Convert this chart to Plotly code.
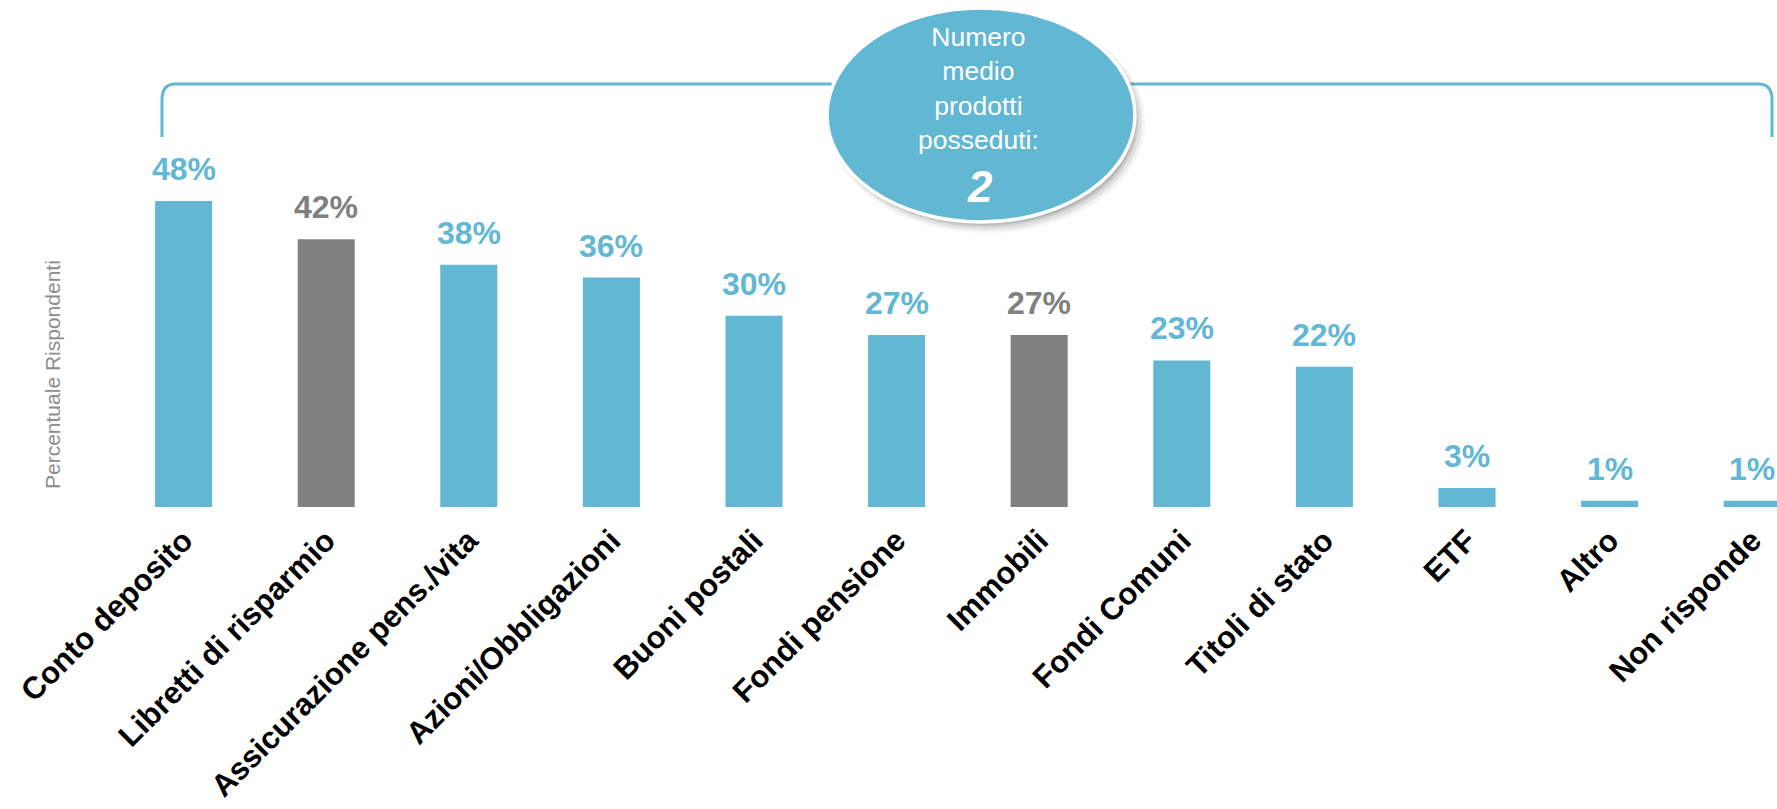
import plotly.graph_objects as go

# Products owned by respondents (% of respondents)
categories = [
    "Conto deposito", "Libretti di risparmio", "Assicurazione pens./vita",
    "Azioni/Obbligazioni", "Buoni postali", "Fondi pensione", "Immobili",
    "Fondi Comuni", "Titoli di stato", "ETF", "Altro", "Non risponde",
]
values = [48, 42, 38, 36, 30, 27, 27, 23, 22, 3, 1, 1]
highlight = [False, True, False, False, False, False, True, False, False, False, False, False]
avg_products = 2

BLUE = "#62B7D3"
GREY = "#808080"
FONT = "Liberation Sans, Arial, sans-serif"

W, H = 1777, 809
PLOT_BOTTOM = 507          # pixel row of the bar baseline
PX_PER_UNIT = 6.375        # vertical pixels per percentage point
CAT_STEP = 142.6           # horizontal pixels per category
FIRST_CENTER = 183.6       # pixel column of the first bar centre

colors = [GREY if h else BLUE for h in highlight]


def px(x):
    return x / W


def py(y):
    return 1 - y / PLOT_BOTTOM


fig = go.Figure(
    go.Bar(
        x=categories,
        y=values,
        marker=dict(color=colors, line=dict(width=0)),
        hoverinfo="skip",
    )
)

# value labels above each bar
for cat, v, c in zip(categories, values, colors):
    fig.add_annotation(
        x=cat, y=v, xref="x", yref="y",
        text=f"{v}%", showarrow=False,
        yanchor="bottom", yshift=12,
        font=dict(family=FONT, size=32, color=c, weight="bold"),
    )

# bracket spanning all bars
bracket = (
    f"M {px(162)} {py(137)} L {px(162)} {py(98)} "
    f"Q {px(163)} {py(84)} {px(175)} {py(84)} "
    f"L {px(1759)} {py(84)} "
    f"Q {px(1771)} {py(84)} {px(1772)} {py(98)} "
    f"L {px(1772)} {py(137)}"
)
fig.add_shape(type="path", path=bracket, xref="paper", yref="paper",
              line=dict(color=BLUE, width=3), layer="above")

# bubble with soft drop shadow
cx, cy, a, b = 981, 115, 154, 107
for off, grow, op in [(7, 4, 0.08), (6, 2, 0.12), (5, 0, 0.18), (4, -1, 0.22)]:
    fig.add_shape(type="circle", xref="paper", yref="paper",
                  x0=px(cx - a - grow + off - 1), x1=px(cx + a + grow + off - 1),
                  y0=py(cy + b + grow + off), y1=py(cy - b - grow + off),
                  fillcolor="#6a6a6a", opacity=op, line=dict(width=0), layer="above")
fig.add_shape(type="circle", xref="paper", yref="paper",
              x0=px(cx - a), x1=px(cx + a), y0=py(cy + b), y1=py(cy - b),
              fillcolor=BLUE, line=dict(color="white", width=3.5), layer="above")

fig.add_annotation(
    x=px(978), y=py(88), xref="paper", yref="paper",
    text="Numero<br>medio<br>prodotti<br>posseduti:", showarrow=False,
    xanchor="center", yanchor="middle", align="center",
    font=dict(family=FONT, size=26.5, color="white"),
)
fig.add_annotation(
    x=px(980), y=py(186), xref="paper", yref="paper",
    text=f"<b><i>{avg_products}</i></b>", showarrow=False,
    xanchor="center", yanchor="middle",
    font=dict(family=FONT, size=44, color="white"),
)

# vertical axis caption
fig.add_annotation(
    x=px(52), y=py(375), xref="paper", yref="paper",
    text="Percentuale Rispondenti", showarrow=False, textangle=-90,
    xanchor="center", yanchor="middle",
    font=dict(family=FONT, size=21, color="#8c8c8c"),
)

x0 = -FIRST_CENTER / CAT_STEP
x1 = x0 + W / CAT_STEP
fig.update_layout(
    width=W, height=H,
    margin=dict(l=0, r=0, t=0, b=H - PLOT_BOTTOM),
    paper_bgcolor="white", plot_bgcolor="white",
    bargap=0.6, showlegend=False,
    xaxis=dict(
        range=[x0, x1], tickangle=-45, showgrid=False, showline=False,
        zeroline=False, automargin=False,
        # invisible ticks push the labels a little below the baseline
        ticks="outside", ticklen=2, tickcolor="rgba(0,0,0,0)",
        tickfont=dict(family=FONT, size=31, color="black", weight="bold"),
    ),
    yaxis=dict(
        range=[0, PLOT_BOTTOM / PX_PER_UNIT], visible=False,
        showgrid=False, zeroline=False,
    ),
)

fig.write_html("out.html")
